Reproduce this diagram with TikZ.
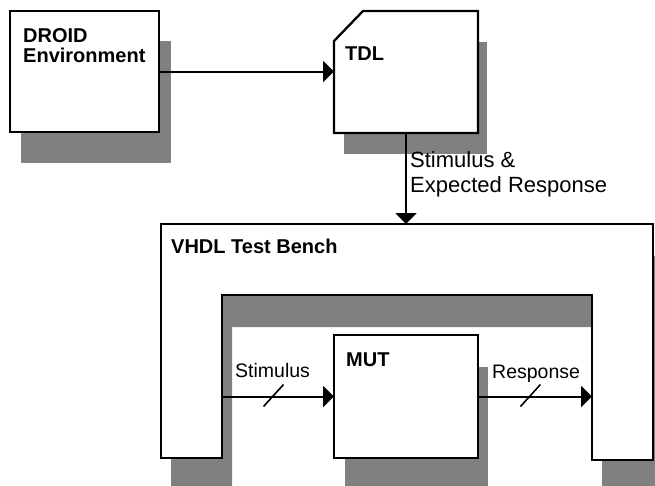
\documentclass[tikz,border=0pt]{standalone}
\usepackage{fontspec}
\setmainfont{Liberation Sans}
\usetikzlibrary{arrows.meta,calc}
\begin{document}
\begin{tikzpicture}[x=1pt,y=-1pt,
  shadowfill/.style={fill=black!50,draw=none},
  boxnode/.style={draw=black,line width=2.3pt,fill=white,inner sep=0pt,outer sep=0pt,rectangle},
  ghost/.style={draw=none,inner sep=0pt,outer sep=0pt,rectangle},
  title/.style={anchor=base west,inner sep=0pt,font=\fontsize{20}{20}\selectfont\bfseries,align=left},
  sig/.style={anchor=base west,inner sep=0pt,font=\fontsize{19.5}{24}\selectfont,align=left},
  conn/.style={line width=2pt,-{Triangle[length=11pt,width=21pt]}},
  slash/.style={line width=1.6pt}
]
\clip (0,0) rectangle (655,485);
\fill[white] (0,0) rectangle (655,485);

% shadows
\fill[shadowfill] (21,41) rectangle (171,163);
\fill[shadowfill] (344,42) rectangle (487,154);
\fill[shadowfill] (171,256) -- (663,256) -- (663,492) -- (602,492) -- (602,327)
  -- (232,327) -- (232,490) -- (171,490) -- cycle;
\fill[shadowfill] (345,367) rectangle (488,490);

% DROID environment
\node[boxnode,minimum width=149pt,minimum height=121pt] (droid) at (84.5,71.5) {};
\node[title] (droidlabel) at (23,62) {DROID\\Environment};

% TDL (chamfered box)
\node[ghost,minimum width=144pt,minimum height=122pt] (tdl) at (406,72) {};
\draw[line width=2.3pt,fill=white,line join=miter]
  ($(tdl.north west)+(29,0)$) -- (tdl.north east) -- (tdl.south east)
  -- (tdl.south west) -- ($(tdl.north west)+(0,30)$) -- cycle;
\node[title] (tdllabel) at (345,60) {TDL};

% VHDL test bench
\coordinate (vtl) at (161,224);
\coordinate (vtr) at (653,224);
\coordinate (vil) at (222,295);
\coordinate (vir) at (592,295);
\draw[line width=2.3pt,fill=white,line join=miter]
  (vtl) -- (vtr) -- (653,460) -- (592,460) -- (vir) -- (vil) -- (222,458) -- (161,458) -- cycle;
\node[title] (vhdllabel) at (171,253) {VHDL Test Bench};

% MUT
\node[boxnode,minimum width=144pt,minimum height=123pt] (mut) at (406,396.5) {};
\node[title] (mutlabel) at (346,366) {MUT};

% connectors
\draw[conn] (droid.east) -- (droid.east -| tdl.west);
\coordinate (vtop) at (tdl.south |- vtl);
\draw[conn] (tdl.south) -- (vtop);
\node[sig,font=\fontsize{22}{25}\selectfont] (stimexp) at (410,192) {Stimulus \&\\Expected Response};

\coordinate (stimsrc) at (mut.west -| vil);
\draw[conn] (stimsrc) -- (mut.west);
\draw[slash] ($(stimsrc)!0.46!(mut.west)+(-10,10)$) -- +(20,-22);
\node[sig] (stimlabel) at (235,377) {Stimulus};

\coordinate (respdst) at (mut.east -| vir);
\draw[conn] (mut.east) -- (respdst);
\draw[slash] ($(mut.east)!0.46!(respdst)+(-10,10)$) -- +(20,-22);
\node[sig] (resplabel) at (492,378) {Response};
\end{tikzpicture}
\end{document}
